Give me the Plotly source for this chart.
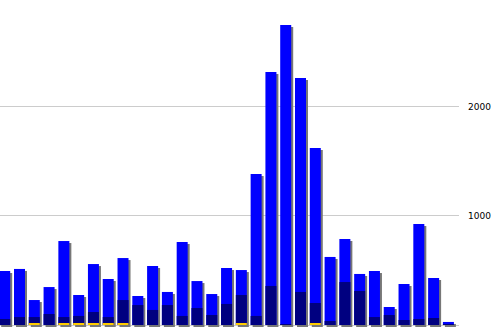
import plotly.graph_objects as go

categories = list(range(31))
total_values = [495, 514, 229, 348, 770, 275, 559, 422, 614, 266, 541, 303, 761, 403, 284, 523,
                504, 1385, 2320, 2751, 2265, 1623, 624, 789, 468, 495, 165, 376, 926, 431, 28]
sub_values = [55, 73, 73, 101, 73, 83, 119, 73, 229, 183, 138, 183, 83, 156, 92, 193,
              275, 83, 358, 9, 303, 202, 37, 394, 312, 73, 92, 46, 55, 64, 9]
small_values = [0, 0, 12, 0, 12, 12, 12, 12, 12, 0, 0, 0, 0, 0, 0, 0,
                12, 0, 0, 0, 0, 12, 0, 0, 0, 0, 0, 0, 0, 0, 0]
tick_vals = [0, 1000, 2000]
tick_text = ["0", "1000", "2000"]

px_per_unit = 14.79
bar_w = 0.744
units_per_px_y = 9.17

fig = go.Figure()
# shadow
fig.add_trace(go.Bar(
    x=categories, y=total_values, base=[-2 * units_per_px_y] * len(categories),
    width=bar_w, offset=-bar_w / 2 + 2 / px_per_unit,
    marker=dict(color="#777777", line=dict(width=0)), hoverinfo="skip", showlegend=False))
fig.add_trace(go.Bar(
    x=categories, y=total_values, width=bar_w,
    marker=dict(color="#0000ff", line=dict(width=0)), showlegend=False))
fig.add_trace(go.Bar(
    x=categories, y=sub_values, width=bar_w,
    marker=dict(color="#000080", line=dict(width=0)), showlegend=False))
fig.add_trace(go.Bar(
    x=categories, y=small_values, width=bar_w,
    marker=dict(color="#ffcc00", line=dict(width=0)), showlegend=False))

fig.update_layout(
    width=498, height=330,
    margin=dict(l=0, r=39, t=0, b=0),
    barmode="overlay",
    plot_bgcolor="white", paper_bgcolor="white",
    xaxis=dict(range=[-4.7 / px_per_unit, -4.7 / px_per_unit + 459 / px_per_unit],
               showgrid=False, showticklabels=False, zeroline=False, ticks=""),
    yaxis=dict(range=[-5 * units_per_px_y, 325 * units_per_px_y], side="right",
               tickvals=tick_vals, ticktext=tick_text,
               showgrid=True, gridcolor="#cccccc", gridwidth=1,
               zeroline=True, zerolinecolor="#cccccc", zerolinewidth=1,
               ticks="", ticklabelstandoff=8,
               tickfont=dict(family="DejaVu Sans", size=9, color="black")),
)

fig.write_html("out.html")
